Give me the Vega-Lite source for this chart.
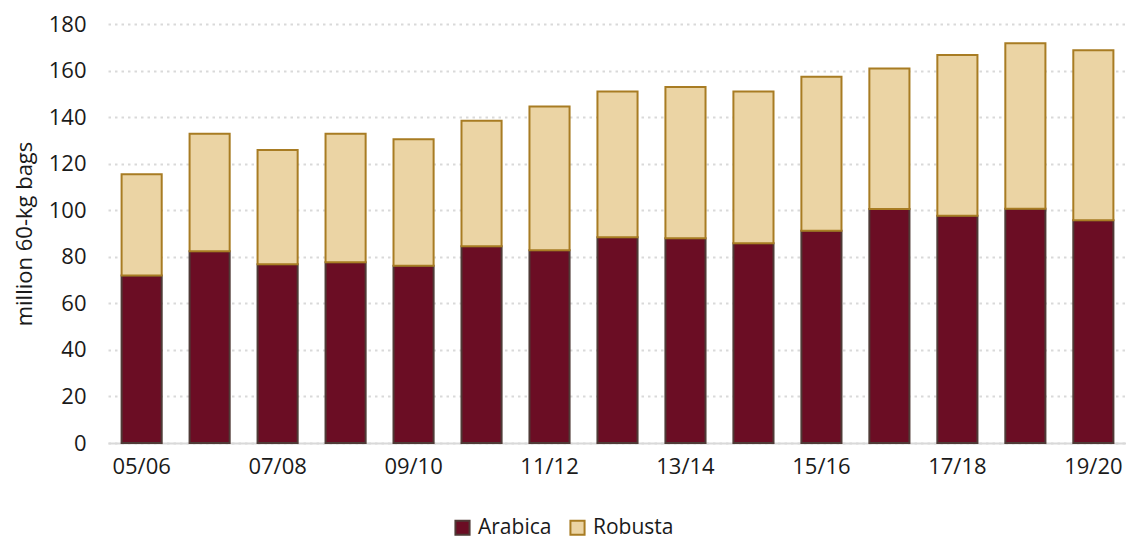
{
  "$schema": "https://vega.github.io/schema/vega-lite/v6.json",
  "width": 1019,
  "height": 419,
  "padding": {"left": 13, "top": 13, "right": 0, "bottom": 0},
  "background": "white",
  "data": {
    "values": [
      {"season": "05/06", "type": "Arabica", "o": 1, "value": 72.0},
      {"season": "05/06", "type": "Robusta", "o": 2, "value": 43.4},
      {"season": "06/07", "type": "Arabica", "o": 1, "value": 82.4},
      {"season": "06/07", "type": "Robusta", "o": 2, "value": 50.5},
      {"season": "07/08", "type": "Arabica", "o": 1, "value": 76.8},
      {"season": "07/08", "type": "Robusta", "o": 2, "value": 49.1},
      {"season": "08/09", "type": "Arabica", "o": 1, "value": 77.6},
      {"season": "08/09", "type": "Robusta", "o": 2, "value": 55.3},
      {"season": "09/10", "type": "Arabica", "o": 1, "value": 76.1},
      {"season": "09/10", "type": "Robusta", "o": 2, "value": 54.4},
      {"season": "10/11", "type": "Arabica", "o": 1, "value": 84.5},
      {"season": "10/11", "type": "Robusta", "o": 2, "value": 53.9},
      {"season": "11/12", "type": "Arabica", "o": 1, "value": 82.8},
      {"season": "11/12", "type": "Robusta", "o": 2, "value": 61.8},
      {"season": "12/13", "type": "Arabica", "o": 1, "value": 88.4},
      {"season": "12/13", "type": "Robusta", "o": 2, "value": 62.6},
      {"season": "13/14", "type": "Arabica", "o": 1, "value": 88.0},
      {"season": "13/14", "type": "Robusta", "o": 2, "value": 64.9},
      {"season": "14/15", "type": "Arabica", "o": 1, "value": 85.8},
      {"season": "14/15", "type": "Robusta", "o": 2, "value": 65.2},
      {"season": "15/16", "type": "Arabica", "o": 1, "value": 91.2},
      {"season": "15/16", "type": "Robusta", "o": 2, "value": 66.1},
      {"season": "16/17", "type": "Arabica", "o": 1, "value": 100.5},
      {"season": "16/17", "type": "Robusta", "o": 2, "value": 60.4},
      {"season": "17/18", "type": "Arabica", "o": 1, "value": 97.6},
      {"season": "17/18", "type": "Robusta", "o": 2, "value": 69.1},
      {"season": "18/19", "type": "Arabica", "o": 1, "value": 100.6},
      {"season": "18/19", "type": "Robusta", "o": 2, "value": 71.1},
      {"season": "19/20", "type": "Arabica", "o": 1, "value": 95.7},
      {"season": "19/20", "type": "Robusta", "o": 2, "value": 73.0}
    ]
  },
  "mark": {"type": "bar", "strokeWidth": 2},
  "encoding": {
    "x": {
      "field": "season",
      "type": "nominal",
      "sort": null,
      "scale": {"paddingInner": 0.41, "paddingOuter": 0.2},
      "axis": {
        "title": null,
        "values": ["05/06", "07/08", "09/10", "11/12", "13/14", "15/16", "17/18", "19/20"],
        "labelAngle": 0,
        "ticks": false,
        "labelPadding": 13,
        "labelFontSize": 22,
        "labelFont": "Open Sans",
        "labelColor": "#1a1a1a",
        "domainColor": "#D9D9D9",
        "domainWidth": 2,
        "grid": false
      }
    },
    "y": {
      "field": "value",
      "type": "quantitative",
      "stack": "zero",
      "scale": {"domain": [0, 180], "nice": false},
      "axis": {
        "title": "million 60-kg bags",
        "titleFont": "Open Sans",
        "titleFontSize": 22,
        "titleFontWeight": "normal",
        "titleColor": "#1a1a1a",
        "titlePadding": 12,
        "values": [0, 20, 40, 60, 80, 100, 120, 140, 160, 180],
        "labelFontSize": 22,
        "labelFont": "Open Sans",
        "labelColor": "#1a1a1a",
        "labelPadding": 22,
        "ticks": false,
        "domain": false,
        "grid": true,
        "gridColor": "#D9D9D9",
        "gridWidth": 2,
        "gridDash": [2.5, 4]
      }
    },
    "fill": {
      "field": "type",
      "type": "nominal",
      "scale": {"domain": ["Arabica", "Robusta"], "range": ["#6B0D24", "#EBD4A4"]},
      "legend": {
        "title": null,
        "orient": "none",
        "legendX": 344,
        "legendY": 493,
        "direction": "horizontal",
        "symbolType": "square",
        "symbolSize": 200,
        "symbolStrokeWidth": 2,
        "labelFont": "Open Sans",
        "labelFontSize": 21,
        "labelColor": "#1a1a1a",
        "labelOffset": 5,
        "columnPadding": 14
      }
    },
    "stroke": {
      "field": "type",
      "type": "nominal",
      "scale": {"domain": ["Arabica", "Robusta"], "range": ["#4F3A36", "#A87C23"]},
      "legend": {
        "title": null,
        "orient": "none",
        "legendX": 344,
        "legendY": 493,
        "direction": "horizontal",
        "symbolType": "square",
        "symbolSize": 200,
        "symbolStrokeWidth": 2,
        "labelFont": "Open Sans",
        "labelFontSize": 21,
        "labelColor": "#1a1a1a",
        "labelOffset": 5,
        "columnPadding": 14
      }
    },
    "order": {"field": "o", "type": "quantitative"}
  },
  "config": {"view": {"stroke": null}}
}
